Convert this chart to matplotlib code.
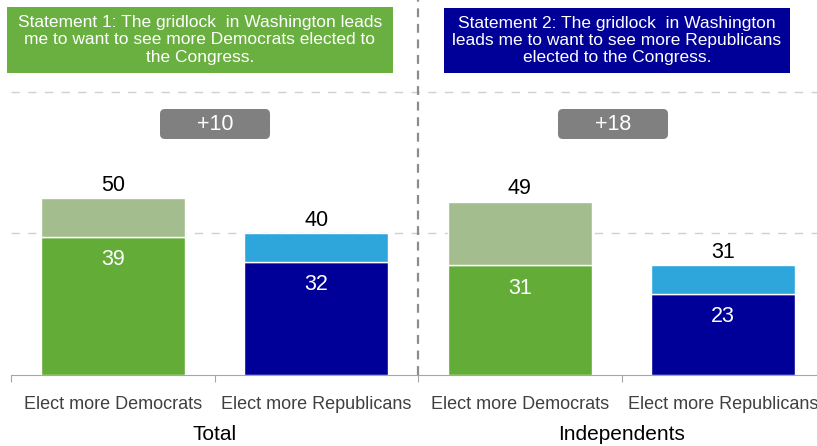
import matplotlib
matplotlib.use("Agg")
import matplotlib.pyplot as plt
from matplotlib.patches import Rectangle, FancyBboxPatch

plt.rcParams["font.family"] = ["Liberation Sans", "DejaVu Sans"]

# data
categories = ["Elect more Democrats", "Elect more Republicans",
              "Elect more Democrats", "Elect more Republicans"]
groups = ["Total", "Independents"]
base_values = [39, 32, 31, 23]
total_values = [50, 40, 49, 31]
gaps = ["+10", "+18"]
statements = [
    "Statement 1: The gridlock  in Washington leads\nme to want to see more Democrats elected to\nthe Congress.",
    "Statement 2: The gridlock  in Washington\nleads me to want to see more Republicans\nelected to the Congress.",
]

base_colors = ["#62AC37", "#000099", "#62AC37", "#000099"]
top_colors = ["#A3BD8F", "#2EA6DC", "#A3BD8F", "#2EA6DC"]

W, H = 817, 446
fig = plt.figure(figsize=(W / 100, H / 100), dpi=100)

# axes runs a bit past the right edge like the original
left_px, right_px, base_px = 11, 825, 375
ax = fig.add_axes([left_px / W, (H - base_px) / H, (right_px - left_px) / W, base_px / H])
ax.set_xlim(-0.5, 3.5)
px_per_unit = 3.54
ax.set_ylim(0, base_px / px_per_unit)

x = list(range(len(categories)))
top_parts = [t - b for t, b in zip(total_values, base_values)]
ax.bar(x, base_values, width=0.71, color=base_colors, edgecolor="white", linewidth=1, zorder=3)
ax.bar(x, top_parts, bottom=base_values, width=0.71, color=top_colors,
       edgecolor="white", linewidth=1, zorder=3)

for i in x:
    ax.annotate(str(base_values[i]), (x[i], base_values[i]), xytext=(0, -16.5),
                textcoords="offset points", ha="center", va="center",
                color="white", fontsize=15.5, zorder=4)
    ax.annotate(str(total_values[i]), (x[i], total_values[i]), xytext=(0, 1.5),
                textcoords="offset points", ha="center", va="bottom",
                color="black", fontsize=15.5, zorder=4)

# dashed gridlines
for gy in [40, 80]:
    ax.axhline(gy, color="#D0D0D0", linestyle=(0, (6, 6)), linewidth=1, zorder=1)

# divider between the two groups
ax.plot([1.5, 1.5], [0, ax.get_ylim()[1]], color="#8C8C8C", linestyle=(0, (4, 3)),
        linewidth=1.6, zorder=2, clip_on=False)

# axes styling
for side in ["top", "right", "left"]:
    ax.spines[side].set_visible(False)
ax.spines["bottom"].set_color("#A6A6A6")
ax.set_yticks([])
ax.set_xticks([-0.5, 0.5, 1.5, 2.5, 3.5])
ax.set_xticklabels([])
ax.tick_params(axis="x", which="major", length=5, color="#A6A6A6")
ax.set_xticks(x, minor=True)
ax.set_xticklabels(categories, minor=True, fontsize=13, color="#404040")
ax.tick_params(axis="x", which="minor", length=0, pad=15)

# group labels
ax.text(0.5, -0.16, groups[0], transform=ax.get_xaxis_transform(), ha="center",
        va="center", fontsize=15, color="black")
ax.text(2.5, -0.16, groups[1], transform=ax.get_xaxis_transform(), ha="center",
        va="center", fontsize=15, color="black")

# gap boxes
box_w, box_h = 110, 30
for cx_px, label in [(215, gaps[0]), (613, gaps[1])]:
    cy_px = 124
    patch = FancyBboxPatch(((cx_px - box_w / 2) / W, (H - cy_px - box_h / 2) / H),
                           box_w / W, box_h / H,
                           boxstyle="round,pad=0,rounding_size=0.006",
                           mutation_aspect=W / H,
                           transform=fig.transFigure, facecolor="#808080",
                           edgecolor="none", zorder=5)
    fig.add_artist(patch)
    fig.text(cx_px / W, 1 - cy_px / H, label, ha="center", va="center",
             color="white", fontsize=15.5, zorder=6)

# statement boxes
boxes = [(7, 7, 393, 73, "#6AB040"), (444, 8, 790, 73, "#000099")]
for (x0, y0, x1, y1, col), txt in zip(boxes, statements):
    fig.add_artist(Rectangle((x0 / W, 1 - y1 / H), (x1 - x0) / W, (y1 - y0) / H,
                             transform=fig.transFigure, facecolor=col,
                             edgecolor="none", zorder=5))
    fig.text((x0 + x1) / 2 / W, 1 - (y0 + y1) / 2 / H, txt, ha="center", va="center",
             color="white", fontsize=12.5, linespacing=1.2, zorder=6)

fig.savefig("out.png", dpi=100)
